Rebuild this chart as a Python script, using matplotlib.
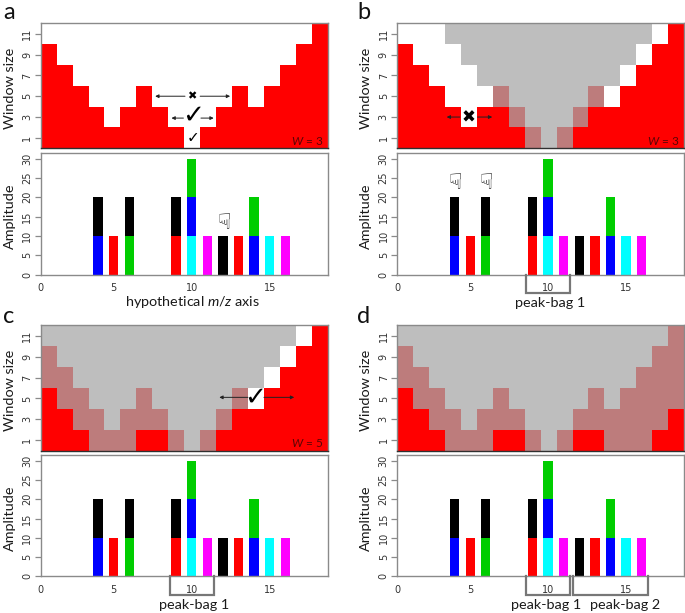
import matplotlib
matplotlib.use('Agg')
import matplotlib.pyplot as plt
from matplotlib.colors import ListedColormap
import numpy as np

plt.rcParams['font.family'] = ['Lato', 'DejaVu Sans']
plt.rcParams['mathtext.fontset'] = 'custom'
plt.rcParams['mathtext.it'] = 'Lato:italic'
plt.rcParams['mathtext.rm'] = 'Lato'

W_PX, H_PX = 685, 613

# top heatmaps: red column height for each of the 18 columns
red_height = [10, 8, 6, 4, 2, 4, 6, 4, 2, 0, 2, 4, 6, 4, 6, 8, 10, 12]
# half width of a masked window, one entry per row (bottom row first)
mask_half_width = [1, 1, 2, 2, 3, 3, 4, 4, 5, 5, 6, 6]
# columns where peak-bags are centred in each panel
bag_centres = {'a': [], 'b': [10], 'c': [5, 10], 'd': [5, 10, 15]}

# bottom stacked bars
peak_mz = [4, 5, 6, 9, 10, 11, 12, 13, 14, 15, 16]
layer1_amp = [10, 10, 10, 10, 10, 10, 10, 10, 10, 10, 10]
layer1_col = ['#0000ff', '#ff0000', '#00cd00', '#ff0000', '#00ffff', '#ff00ff',
              '#000000', '#ff0000', '#0000ff', '#00ffff', '#ff00ff']
layer2_amp = [10, 0, 10, 10, 10, 0, 0, 0, 10, 0, 0]
layer2_col = ['#000000', '#000000', '#000000', '#000000', '#0000ff', '#000000',
              '#000000', '#000000', '#00cd00', '#000000', '#000000']
layer3_amp = [0, 0, 0, 0, 10, 0, 0, 0, 0, 0, 0]
layer3_col = ['#00cd00'] * 11

amp_ticks = [0, 5, 10, 15, 20, 25, 30]
win_ticks = [1, 3, 5, 7, 9, 11]
mz_labels = ['0', '5', '10', '15']
XLIM = (0.32, 18.72)
YLIM = (0, 31.4)

heat_cmap = ListedColormap(['#ffffff', '#ff0000', '#bebebe', '#bd7c7c'])
frame_col = '#8a8a8a'
tick_col = '#333333'
tick_font = 7.0


def px_axes(fig, x0, y0, x1, y1):
    # pixel box, y counted from the top of the image
    return fig.add_axes([x0 / W_PX, 1 - y1 / H_PX, (x1 - x0) / W_PX, (y1 - y0) / H_PX])


def fig_text(fig, x, y, s, **kw):
    fig.text(x / W_PX, 1 - y / H_PX, s, ha='center', va='center', **kw)


def style_axes(ax):
    for sp in ax.spines.values():
        sp.set_color(frame_col)
        sp.set_linewidth(1.0)


def draw_heat(ax, panel, w_text=None):
    state = np.zeros((12, 18), dtype=int)
    for c, h in enumerate(red_height):
        state[:h, c] = 1
    for centre in bag_centres[panel]:
        for r, hw in enumerate(mask_half_width):
            for c in range(18):
                if abs(c + 1 - centre) <= hw and state[r, c] < 2:
                    state[r, c] += 2
    ax.pcolormesh(np.arange(19), np.arange(13), state, cmap=heat_cmap, vmin=0, vmax=3)
    ax.set_xlim(0, 18)
    ax.set_ylim(0, 12)
    ax.set_xticks([])
    ax.set_yticks(win_ticks)
    ax.set_yticklabels(win_ticks, rotation=90, va='center', family='DejaVu Sans', fontsize=tick_font, color=tick_col)
    ax.tick_params(axis='y', length=4.2, width=0.9, color=frame_col, pad=2)
    style_axes(ax)
    ax.spines['bottom'].set_color('#303030')
    if w_text:
        ax.text(17.72, 0.72, w_text, ha='right', va='center', fontsize=8.5, color='#5a0505')


def draw_bars(ax):
    x = np.array(peak_mz)
    ax.bar(x, layer1_amp, width=0.6, color=layer1_col)
    ax.bar(x, layer2_amp, width=0.6, bottom=layer1_amp, color=layer2_col)
    ax.bar(x, layer3_amp, width=0.6, bottom=np.add(layer1_amp, layer2_amp), color=layer3_col)
    ax.set_xlim(*XLIM)
    ax.set_ylim(*YLIM)
    ax.set_xticks([XLIM[0], 5, 10, 15])
    ax.set_xticklabels(mz_labels, family='DejaVu Sans', fontsize=tick_font, color=tick_col)
    ax.set_yticks(amp_ticks)
    ax.set_yticklabels(amp_ticks, rotation=90, va='center', family='DejaVu Sans', fontsize=tick_font, color=tick_col)
    ax.tick_params(axis='y', length=4.2, width=0.9, color=frame_col, pad=2)
    ax.tick_params(axis='x', length=0, pad=6)
    style_axes(ax)


def bracket(ax, x0, x1, depth=-4.75):
    ax.plot([x0, x0, x1, x1], [0, depth, depth, 0], color='#777777', lw=1.6,
            clip_on=False, solid_joinstyle='miter', zorder=5)


def arrow(ax, x0, x1, y):
    ax.annotate('', xy=(x1, y), xytext=(x0, y),
                arrowprops=dict(arrowstyle='-|>', color='#222222', lw=0.7, mutation_scale=5,
                                shrinkA=0, shrinkB=0))


def mark(ax, x, y, s, size, color='black', weight='normal'):
    ax.text(x, y, s, ha='center', va='center', fontsize=size, color=color,
            family='DejaVu Sans', fontweight=weight)


fig = plt.figure(figsize=(W_PX / 100, H_PX / 100), dpi=100)

LEFT = (40.7, 327.7)
RIGHT = (397.3, 684)
label_font = dict(fontsize=10.4, color='#1a1a1a')
hand_col = '#1c1c1c'

# a
top = px_axes(fig, LEFT[0], 23.3, LEFT[1], 148.3)
draw_heat(top, 'a', r'$\mathit{W}$ = 3')
bot = px_axes(fig, LEFT[0], 153.3, LEFT[1], 274.5)
draw_bars(bot)
mark(top, 9.5, 5, '\u2716', 8)
mark(top, 9.55, 3.1, '\u2713', 19, weight='bold')
mark(top, 9.55, 1, '\u2713', 11, weight='bold')
arrow(top, 9.05, 7.18, 5)
arrow(top, 10.0, 11.88, 5)
arrow(top, 8.95, 8.2, 2.9)
arrow(top, 10.05, 10.85, 2.9)
mark(bot, 12.07, 13.4, '\u261f', 16, hand_col)

# b
top = px_axes(fig, RIGHT[0], 23.3, RIGHT[1], 148.3)
draw_heat(top, 'b', r'$\mathit{W}$ = 3')
bot = px_axes(fig, RIGHT[0], 153.3, RIGHT[1], 274.5)
draw_bars(bot)
mark(top, 4.5, 3, '\u2716', 12)
arrow(top, 3.93, 3.1, 3)
arrow(top, 5.04, 5.96, 3)
mark(bot, 4.06, 23.8, '\u261f', 16, hand_col)
mark(bot, 6.0, 23.8, '\u261f', 16, hand_col)
bracket(bot, 8.59, 11.41)

# c
top = px_axes(fig, LEFT[0], 325.3, LEFT[1], 450.6)
draw_heat(top, 'c', r'$\mathit{W}$ = 5')
bot = px_axes(fig, LEFT[0], 455.2, LEFT[1], 576.4)
draw_bars(bot)
mark(top, 13.45, 5.1, '\u2713', 19, weight='bold')
arrow(top, 13.0, 11.2, 5.1)
arrow(top, 14.0, 15.9, 5.1)
bracket(bot, 8.59, 11.41)

# d
top = px_axes(fig, RIGHT[0], 325.3, RIGHT[1], 450.6)
draw_heat(top, 'd')
bot = px_axes(fig, RIGHT[0], 455.2, RIGHT[1], 576.4)
draw_bars(bot)
bracket(bot, 8.59, 11.41)
bracket(bot, 11.6, 16.43)

# axis titles
for xpos in (10, 365.5):
    fig_text(fig, xpos, 88, 'Window size', rotation=90, **label_font)
    fig_text(fig, xpos, 216.5, 'Amplitude', rotation=90, **label_font)
    fig_text(fig, xpos, 390, 'Window size', rotation=90, **label_font)
    fig_text(fig, xpos, 518, 'Amplitude', rotation=90, **label_font)

fig_text(fig, 193, 301.5, r'hypothetical $\mathit{m/z}$ axis', **label_font)
fig_text(fig, 550, 303, 'peak-bag 1', **label_font)
fig_text(fig, 194, 605, 'peak-bag 1', **label_font)
fig_text(fig, 546.5, 605, 'peak-bag 1', **label_font)
fig_text(fig, 625, 605, 'peak-bag 2', **label_font)

# panel letters, placed on their baseline
letter_font = dict(fontsize=17, color='#111111', ha='center', va='baseline')
fig.text(9 / W_PX, 1 - 19.3 / H_PX, 'a', **letter_font)
fig.text(364 / W_PX, 1 - 19.3 / H_PX, 'b', **letter_font)
fig.text(9 / W_PX, 1 - 323 / H_PX, 'c', **letter_font)
fig.text(364 / W_PX, 1 - 323 / H_PX, 'd', **letter_font)

fig.savefig('out.png', dpi=100)
